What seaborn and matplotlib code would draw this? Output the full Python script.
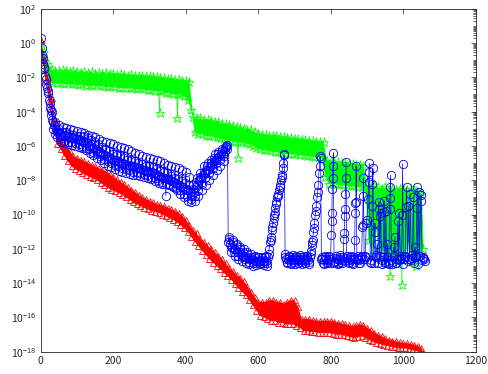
import numpy as np
import pandas as pd
import matplotlib
matplotlib.use("Agg")
import matplotlib.pyplot as plt
import seaborn as sns
from matplotlib.ticker import FixedLocator, FixedFormatter, NullFormatter

# ---------------- data: log10 of the residual ----------------
# band values sampled every 5 iterations, alternating upper / lower edge of the band
STEP = 5

red_exp = [
    0.2, -0.8, -1.0, -2.2, -2.0, -3.4, -3.2, -4.8, -4.5, -5.9, -5.4, -6.2, -5.8, -6.6, -6.1, -6.9, -6.3, -7.2, -6.6, -7.35,
    -6.7, -7.45, -6.8, -7.6, -6.9, -7.7, -7.0, -7.8, -7.1, -7.9, -7.2, -8.0, -7.3, -8.15, -7.4, -8.3, -7.5, -8.45, -7.65, -8.55,
    -7.8, -8.65, -7.95, -8.75, -8.1, -8.85, -8.25, -9.0, -8.4, -9.15, -8.55, -9.3, -8.7, -9.4, -8.85, -9.5, -9.0, -9.6, -9.1, -9.7,
    -9.2, -9.8, -9.3, -9.85, -9.4, -9.9, -9.45, -10.0, -9.5, -10.1, -9.6, -10.2, -9.7, -10.3, -9.8, -10.45, -9.9, -10.6, -10.1, -10.8,
    -10.3, -11.0, -10.6, -11.3, -10.9, -11.6, -11.1, -11.85, -11.4, -12.1, -11.6, -12.35, -11.8, -12.6, -12.0, -12.8, -12.2, -13.0, -12.4, -13.2,
    -12.6, -13.4, -12.85, -13.6, -13.1, -13.8, -13.3, -14.05, -13.5, -14.3, -13.7, -14.5, -13.9, -14.7, -14.2, -15.0, -14.5, -15.3, -14.8, -15.6,
    -15.1, -15.9, -15.1, -16.0, -15.1, -16.1, -15.0, -16.2, -15.0, -16.2, -15.1, -16.3, -15.1, -16.3, -15.2, -16.4, -15.1, -16.4, -15.0, -16.4,
    -15.0, -16.5, -15.4, -16.6, -16.1, -16.8, -16.1, -16.8, -16.1, -16.85, -16.15, -16.85, -16.2, -16.9, -16.2, -16.9, -16.2, -16.9, -16.2, -16.9,
    -16.2, -16.95, -16.25, -17.0, -16.3, -17.0, -16.35, -17.05, -16.4, -17.1, -16.45, -17.15, -16.5, -17.2, -16.45, -17.15, -16.4, -17.1, -16.45, -17.2,
    -16.6, -17.3, -16.75, -17.4, -16.9, -17.5, -17.0, -17.55, -17.1, -17.6, -17.2, -17.65, -17.3, -17.7, -17.35, -17.75, -17.4, -17.8, -17.45, -17.8,
    -17.5, -17.8, -17.5, -17.85, -17.55, -17.9, -17.6, -17.95, -17.65, -18.0, -17.8, -18.1,
]

green_exp = [
    0.0, -0.9, -0.5, -1.5, -1.2, -2.2, -1.6, -2.35, -1.65, -2.35, -1.65, -2.35, -1.6, -2.4, -1.65, -2.35, -1.7, -2.4, -1.65, -2.4,
    -1.7, -2.45, -1.75, -2.4, -1.7, -2.5, -1.75, -2.45, -1.7, -2.5, -1.8, -2.45, -1.75, -2.5, -1.8, -2.5, -1.75, -2.55, -1.8, -2.5,
    -1.8, -2.55, -1.85, -2.6, -1.8, -2.6, -1.85, -2.65, -1.9, -2.6, -1.85, -2.65, -1.9, -2.7, -1.95, -2.65, -1.9, -2.7, -1.95, -2.75,
    -1.95, -2.75, -2.0, -2.8, -2.0, -2.8, -2.05, -2.8, -2.05, -2.9, -2.1, -2.9, -2.1, -3.0, -2.15, -3.0, -2.15, -3.0, -2.2, -3.1,
    -2.2, -3.3, -2.3, -3.9, -4.3, -5.2, -4.4, -5.3, -4.4, -5.3, -4.5, -5.4, -4.5, -5.4, -4.55, -5.45, -4.6, -5.5, -4.6, -5.55,
    -4.7, -5.6, -4.75, -5.65, -4.8, -5.7, -4.85, -5.75, -4.9, -5.8, -4.95, -5.8, -5.0, -5.85, -5.05, -5.9, -5.1, -6.0, -5.2, -6.1,
    -5.3, -6.2, -5.35, -6.25, -5.35, -6.25, -5.4, -6.3, -5.4, -6.35, -5.45, -6.35, -5.5, -6.4, -5.5, -6.45, -5.55, -6.45, -5.55, -6.5,
    -5.6, -6.5, -5.6, -6.55, -5.65, -6.55, -5.65, -6.6, -5.7, -6.6, -5.7, -6.65, -5.75, -6.65, -5.75, -6.7, -5.8, -7.8, -6.9, -8.2,
    -6.9, -8.2, -6.95, -8.25, -6.95, -8.25, -7.0, -8.3, -7.0, -8.3, -7.05, -8.35, -7.05, -8.35, -7.1, -8.4, -7.1, -8.4, -7.15, -8.5,
    -8.3, -11.5, -8.4, -12.3, -8.3, -10.8, -8.4, -12.6, -8.5, -11.9, -8.4, -12.8, -8.6, -12.5, -8.5, -12.2, -8.6, -12.9, -8.5, -12.6,
    -8.5, -12.4, -8.6, -11.6, -8.5, -12.7, -8.6, -13.0, -8.7, -12.3, -8.8, -12.0,
]
# isolated green stars below the band
green_out_iter = [328, 377, 544, 963, 996]
green_out_exp = [-4.1, -4.4, -6.7, -13.6, -14.1]

# blue: every 5 iterations (upper / lower alternating) ...
blue_exp = [
    0.3, -0.9, -1.5, -2.4, -2.9, -3.8, -4.0, -5.0, -4.6, -5.5, -4.8, -5.8, -4.9, -5.85, -4.95, -5.9, -5.0, -5.95, -5.1, -6.0,
    -5.15, -6.05, -5.2, -6.15, -5.25, -6.25, -5.35, -6.4, -5.45, -6.55, -5.5, -6.7, -5.6, -6.85, -5.7, -7.0, -5.8, -7.15, -5.85, -7.25,
    -5.9, -7.35, -6.0, -7.45, -6.05, -7.55, -6.1, -7.6, -6.2, -7.65, -6.3, -7.7, -6.4, -7.7, -6.5, -7.75, -6.6, -7.8, -6.65, -7.9,
    -6.7, -7.95, -6.75, -8.05, -6.85, -8.15, -6.9, -8.2, -7.0, -8.9, -7.1, -8.3, -7.2, -8.4, -7.25, -8.6, -7.3, -8.8, -7.4, -9.0,
    -7.5, -9.2, -7.8, -9.3, -8.3, -9.2, -7.9, -8.9, -7.6, -8.6, -7.2, -8.3, -7.0, -8.0, -6.8, -7.7, -6.5, -7.4, -6.35, -7.2,
    -6.2, -6.9, -6.0, -5.95, -11.3, -12.2, -11.5, -12.4, -11.7, -12.6, -11.9, -12.7, -12.0, -12.8, -12.2, -12.9, -12.3, -13.0, -12.4, -12.95,
    -12.45, -12.9, -12.45, -12.95, -12.4, -13.0, -12.0, -11.3, -10.5, -9.9, -9.3, -8.8, -8.3, -7.7, -6.5, -12.3, -12.85, -12.4, -12.9, -12.35,
    -12.9, -12.4, -12.85, -12.35, -12.9, -12.4, -12.85, -12.4, -12.9, -12.1, -11.5, -10.5, -9.5, -8.3, -6.6, -12.5, -12.9, -12.4, -12.85, -12.4,
    -12.9, -12.4, -12.85, -12.4, -12.9, -12.35, -12.85, -12.4, -12.9, -12.4, -12.85, -12.4, -12.9, -12.35, -12.9, -12.4, -12.85, -12.4, -12.9, -12.4,
    -12.9, -12.4, -12.85, -12.4, -12.9, -12.35, -12.85, -12.4, -12.9, -12.4, -12.85, -12.4, -12.9, -12.35, -12.9, -12.4, -12.85, -12.4, -12.9, -12.4,
    -12.9, -12.4, -12.85, -12.4, -12.9, -12.35, -12.85, -12.4, -12.9, -12.4, -12.85, -12.5,
]
# ... the middle of the band at iterations 2, 7, 12, ...
blue_mid_exp = [
    -0.3, -1.2, -1.9, -2.6, -3.3, -3.9, -4.5, -4.8, -5.0, -5.2, -5.3, -5.4, -5.4, -5.45, -5.45, -5.5, -5.5, -5.55, -5.55, -5.6,
    -5.6, -5.65, -5.7, -5.75, -5.8, -5.85, -5.95, -6.0, -6.1, -6.15, -6.2, -6.3, -6.35, -6.4, -6.5, -6.55, -6.6, -6.65, -6.7, -6.75,
    -6.8, -6.85, -6.9, -6.95, -7.0, -7.0, -7.05, -7.1, -7.1, -7.15, -7.2, -7.2, -7.25, -7.3, -7.3, -7.35, -7.4, -7.4, -7.45, -7.5,
    -7.5, -7.55, -7.6, -7.65, -7.7, -7.75, -7.8, -7.85, -7.9, -7.9, -7.95, -8.0, -8.05, -8.1, -8.15, -8.2, -8.3, -8.35, -8.4, -8.5,
    -8.55, -8.6, -8.7, -8.9, -8.7, -8.4, -8.3, -8.0, -7.9, -7.7, -7.6, -7.4, -7.4, -7.2, -7.1, -6.9, -6.8, -6.7, -6.6, -6.5,
    -6.45, -6.3, -6.05, -11.6, -11.7, -11.9, -12.0, -12.0, -12.2, -12.2, -12.3, -12.4, -12.4, -12.5, -12.55, -12.6, -12.6, -12.65, -12.7, -12.7,
    -12.7, -12.65, -12.7, -12.7, -12.7, -12.5, -11.6, -10.9, -10.2, -9.6, -9.0, -8.6, -8.0, -7.3, -6.55, -12.6, -12.6, -12.65, -12.6, -12.65,
    -12.6, -12.65, -12.6, -12.65, -12.6, -12.65, -12.6, -12.65, -12.5, -11.8, -11.0, -10.0, -9.0, -7.6, -6.7, -12.6, -12.65, -12.6, -12.65, -12.6,
    -12.65, -12.6, -12.7, -12.6, -12.65, -12.6, -12.65, -12.7, -12.6, -12.65, -12.6, -12.65, -12.6, -12.7, -12.6, -12.65, -12.6, -12.65, -12.6, -12.7,
    -12.65, -12.6, -12.65, -12.6, -12.7, -12.6, -12.65, -12.6, -12.65, -12.7, -12.6, -12.65, -12.6, -12.65, -12.6, -12.7, -12.6, -12.65, -12.6, -12.65,
    -12.6, -12.65, -12.7, -12.6, -12.65, -12.6, -12.65, -12.6, -12.7, -12.6, -12.65, -12.6,
]
# ... and inner upper / lower values at iterations 4, 9, 14, ...
blue_mid2_exp = [
    -0.7, -1.4, -2.1, -2.8, -3.5, -4.2, -4.6, -5.3, -5.2, -5.0, -5.6, -5.2, -5.7, -5.2, -5.75, -5.3, -5.8, -5.35, -5.85, -5.4,
    -5.9, -5.4, -6.0, -5.45, -6.1, -5.55, -6.2, -5.65, -6.35, -5.8, -6.5, -5.9, -6.6, -6.05, -6.75, -6.2, -6.9, -6.3, -7.0, -6.45,
    -7.1, -6.55, -7.2, -6.6, -7.3, -6.7, -7.35, -6.8, -7.4, -6.85, -7.5, -6.9, -7.55, -7.0, -7.6, -7.05, -7.65, -7.15, -7.7, -7.2,
    -7.8, -7.25, -7.9, -7.35, -8.0, -7.45, -8.1, -7.55, -8.2, -7.6, -8.25, -7.75, -8.35, -7.85, -8.45, -7.95, -8.6, -8.05, -8.8, -8.15,
    -8.9, -8.3, -9.1, -8.5, -8.9, -8.1, -8.6, -7.8, -8.2, -7.5, -7.9, -7.2, -7.6, -7.0, -7.3, -6.7, -7.0, -6.5, -6.8, -6.3,
    -6.6, -6.1, -6.2, -11.4, -11.9, -11.6, -12.2, -11.8, -12.4, -12.0, -12.5, -12.2, -12.6, -12.3, -12.75, -12.45, -12.8, -12.5, -12.85, -12.5,
    -12.8, -12.55, -12.8, -12.5, -12.85, -12.3, -11.5, -10.7, -10.0, -9.4, -8.9, -8.4, -7.8, -7.0, -12.5, -12.75, -12.5, -12.8, -12.5, -12.75,
    -12.5, -12.8, -12.5, -12.75, -12.5, -12.8, -12.5, -12.75, -12.3, -11.6, -10.8, -9.8, -8.7, -7.2, -12.6, -12.8, -12.5, -12.75, -12.5, -12.8,
    -12.5, -12.75, -12.55, -12.8, -12.5, -12.75, -12.5, -12.8, -12.55, -12.75, -12.5, -12.8, -12.5, -12.75, -12.55, -12.8, -12.5, -12.75, -12.5, -12.8,
    -12.55, -12.75, -12.5, -12.8, -12.5, -12.75, -12.55, -12.8, -12.5, -12.75, -12.5, -12.8, -12.55, -12.75, -12.5, -12.8, -12.5, -12.75, -12.55, -12.8,
    -12.5, -12.75, -12.5, -12.8, -12.55, -12.75, -12.5, -12.8, -12.5, -12.75, -12.55, -12.7,
]
# bursts of the blue curve: first iteration of each burst and its values
blue_spike_start = [801, 836, 866, 887, 898, 903, 914, 921, 928, 932, 937, 946, 952, 956,
                    962, 973, 977, 985, 989, 997, 1008, 1014, 1019, 1028, 1032, 1037, 1043, 1048]
blue_spike_vals = [
    [-11.2, -10.4, -9.9, -8.5, -7.9, -7.2, -6.4],
    [-11.4, -11.1, -10.1, -9.7, -8.8, -7.9, -6.95],
    [-11.5, -9.9, -9.35, -9.25, -7.15],
    [-10.7, -10.6, -8.95, -7.9],
    [-10.5, -10.3],
    [-9.1, -8.1, -7.5, -7.0],
    [-9.5, -8.2, -7.3],
    [-11.0, -10.5],
    [-11.7],
    [-9.7, -9.25],
    [-10.1, -9.9],
    [-9.85, -9.2],
    [-9.8],
    [-11.7],
    [-9.7, -9.05, -8.4, -7.7],
    [-11.9],
    [-11.3],
    [-10.4],
    [-9.9],
    [-10.0, -7.05],
    [-9.55, -8.4],
    [-9.5],
    [-8.8],
    [-8.96],
    [-11.9],
    [-9.6, -8.4],
    [-8.7],
    [-9.2, -8.86],
]

x_ticks = [0, 200, 400, 600, 800, 1000, 1200]
y_tick_exps = [-18, -16, -14, -12, -10, -8, -6, -4, -2, 0, 2]

# ---------------- build tables ----------------
def table(exps, offset=0):
    it = np.arange(len(exps)) * STEP + offset
    return pd.DataFrame({"iter": it, "val": 10.0 ** np.asarray(exps, dtype=float)})

red_df = table(red_exp)
green_band = table(green_exp)
green_df = pd.concat([green_band,
                      pd.DataFrame({"iter": green_out_iter,
                                    "val": 10.0 ** np.asarray(green_out_exp)})])
green_df = green_df.sort_values("iter", kind="stable").reset_index(drop=True)

blue_all = pd.concat([table(blue_exp), table(blue_mid_exp, 2), table(blue_mid2_exp, 4)])
keep = np.ones(len(blue_all), dtype=bool)
sp_it, sp_v = [], []
for s, vals in zip(blue_spike_start, blue_spike_vals):
    e = s + len(vals) - 1
    keep &= ~((blue_all["iter"] >= s - 1) & (blue_all["iter"] <= e + 1)).to_numpy()
    sp_it += [s + k for k in range(len(vals))]
    sp_v += list(vals)
blue_df = pd.concat([blue_all[keep],
                     pd.DataFrame({"iter": sp_it, "val": 10.0 ** np.asarray(sp_v)})])
blue_df = blue_df.sort_values("iter", kind="stable").reset_index(drop=True)

# ---------------- style ----------------
sns.set_style("white")
plt.rcParams["font.family"] = ["Noto Sans CJK JP", "DejaVu Sans"]
plt.rcParams["mathtext.fontset"] = "custom"
plt.rcParams["mathtext.rm"] = "Noto Sans CJK JP"
plt.rcParams["mathtext.it"] = "Noto Sans CJK JP"
plt.rcParams["mathtext.bf"] = "Noto Sans CJK JP"

fig = plt.figure(figsize=(4.88, 3.74), dpi=100)
ax = fig.add_axes([40.8 / 488, 1 - 351.7 / 374, 435 / 488, 343 / 374])
ax.set_yscale("log")

def band(df, color):
    # solid body of a densely sampled band: upper edge forward, lower edge back
    up = df.iloc[0::2]
    lo = df.iloc[1::2].iloc[::-1]
    ax.fill(np.r_[up["iter"].to_numpy(), lo["iter"].to_numpy()],
            np.r_[up["val"].to_numpy(), lo["val"].to_numpy()],
            color=color, lw=0, zorder=1.5)

def draw(df, color, marker, ms):
    sns.lineplot(data=df, x="iter", y="val", ax=ax, color=color, marker=marker,
                 markersize=ms, markerfacecolor="none", markeredgecolor=color,
                 markeredgewidth=0.6, linewidth=0.5, estimator=None, sort=False,
                 legend=False, zorder=2)

band(green_band, (0, 1, 0))
draw(green_df, (0, 1, 0), "*", 6.5)
band(red_df, (1, 0, 0))
draw(red_df, (1, 0, 0), "^", 5)
draw(blue_df, (0, 0, 1), "o", 6)

ax.set_xlim(0, 1200)
ax.set_ylim(1e-18, 1e2)
ax.set_xlabel("")
ax.set_ylabel("")
ax.xaxis.set_major_locator(FixedLocator(x_ticks))
ax.xaxis.set_major_formatter(FixedFormatter([str(v) for v in x_ticks]))
ax.yaxis.set_major_locator(FixedLocator([10.0 ** e for e in y_tick_exps]))
ax.yaxis.set_major_formatter(FixedFormatter([r"$10^{%d}$" % e for e in y_tick_exps]))
minor = [m * 10.0 ** e for e in range(-18, 2) for m in range(1, 10) if not (m == 1 and e % 2 == 0)]
ax.yaxis.set_minor_locator(FixedLocator(minor))
ax.yaxis.set_minor_formatter(NullFormatter())

ax.tick_params(which="both", direction="in", top=True, right=True,
               colors="#262626", labelsize=7.5, width=0.5)
ax.tick_params(which="major", length=3.5, pad=3)
ax.tick_params(which="minor", length=2)
for sp in ax.spines.values():
    sp.set_color("#262626")
    sp.set_linewidth(0.6)
    sp.set_zorder(3)

fig.savefig("out.png", dpi=100)
